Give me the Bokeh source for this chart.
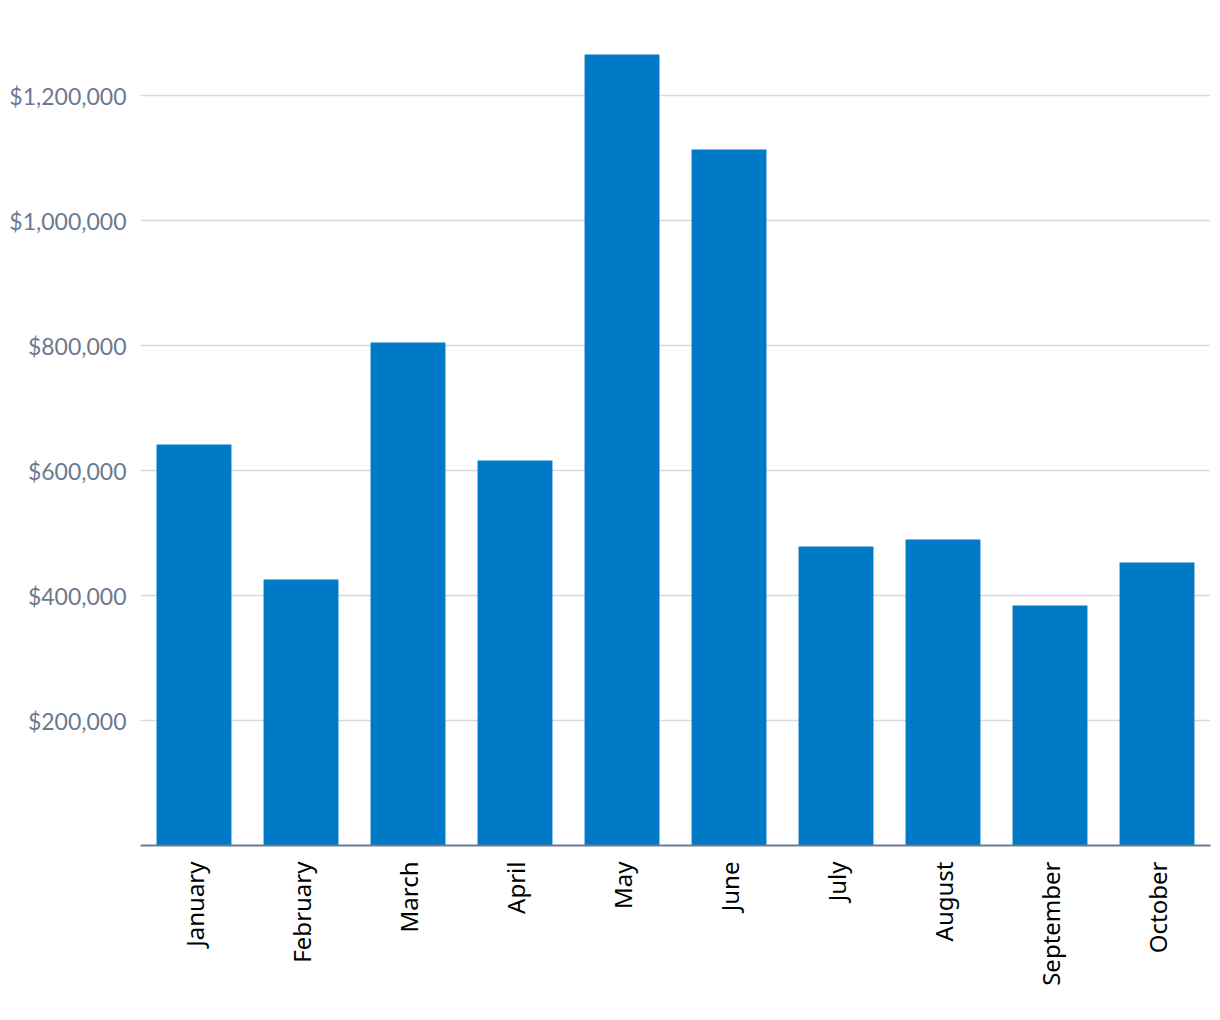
import math
from bokeh.plotting import figure
from bokeh.models import FixedTicker, NumeralTickFormatter, Range1d
from bokeh.embed import file_html
from bokeh.resources import INLINE

months = ["January", "February", "March", "April", "May", "June",
          "July", "August", "September", "October"]
revenue = [641600, 425600, 804800, 616000, 1265600, 1113600,
           478400, 489600, 384000, 452800]
y_ticks = [200000, 400000, 600000, 800000, 1000000, 1200000]

p = figure(x_range=months, y_range=Range1d(0, 1339200),
           frame_width=1070, frame_height=837,
           min_border_left=140, min_border_right=2, min_border_top=8, min_border_bottom=10,
           output_backend="svg", toolbar_location=None)
p.outline_line_color = None

p.vbar(x=months, top=revenue, width=0.7, color="#0079c6", line_color=None)

p.xgrid.grid_line_color = None
p.ygrid.grid_line_color = "#d5d9e2"
p.ygrid.grid_line_width = 1.5
p.yaxis.ticker = FixedTicker(ticks=y_ticks)
p.yaxis.formatter = NumeralTickFormatter(format="$0,0")
p.yaxis.axis_line_color = None
p.yaxis.major_tick_line_color = None
p.yaxis.minor_tick_line_color = None
p.yaxis.major_label_text_color = "#6b7a90"
p.yaxis.major_label_text_font = "Lato"
p.yaxis.major_label_text_font_size = "23px"
p.yaxis.major_label_standoff = 8

p.xaxis.axis_line_color = "#6b7a90"
p.xaxis.axis_line_width = 2
p.xaxis.major_tick_line_color = None
p.xaxis.minor_tick_line_color = None
p.xaxis.major_label_orientation = math.pi / 2
p.xaxis.major_label_text_color = "#000000"
p.xaxis.major_label_text_font = "Noto Sans"
p.xaxis.major_label_text_font_size = "24px"
p.xaxis.major_label_standoff = 10

open("out.html", "w").write(file_html(p, INLINE))
